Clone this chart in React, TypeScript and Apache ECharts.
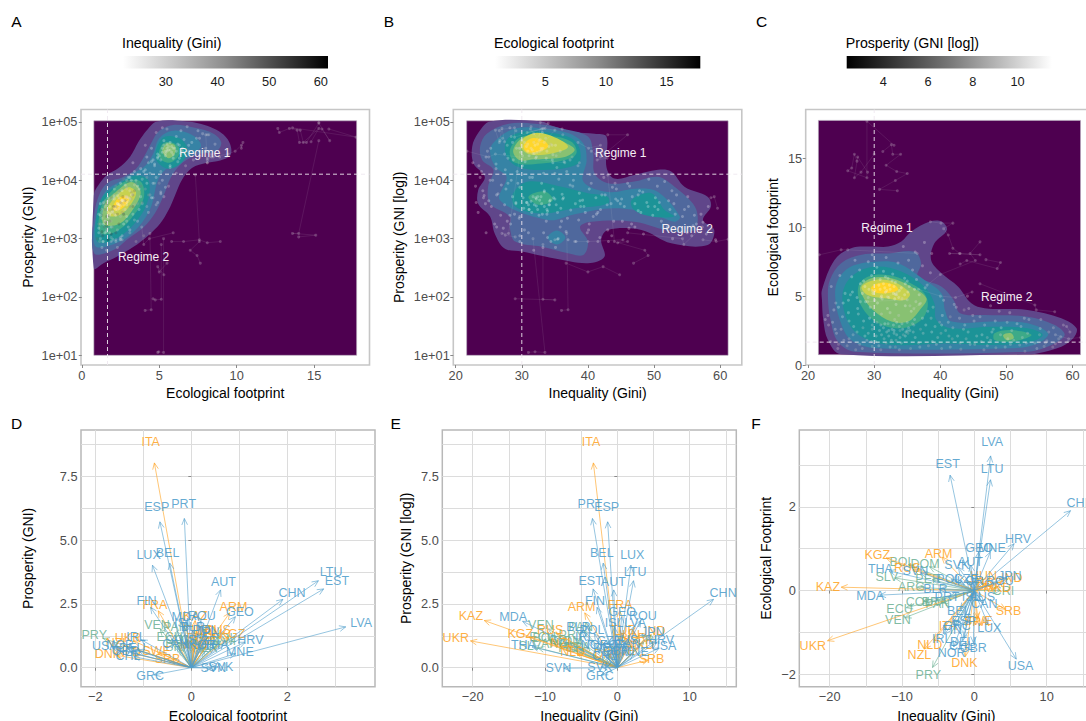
import React, { useEffect, useRef } from "react";
import * as echarts from "echarts";

type P = [number, number];
const FONT = "Liberation Sans";
const levelColors = ["#4e0050", "#60468a", "#4f689d", "#3683a5", "#1c9397", "#3daa88", "#88c172", "#c8d24f", "#ffd62a"];

// Observation extents of the density layer
const extentA = [0.78, 1.0, 17.74, 5.02];
const extentB = [21.66, 1.0, 61.2, 5.02];
const extentC = [21.56, 0.75, 61.2, 17.76];
const thresholdEco = 1.66;
const thresholdGini = 30;
const thresholdGni = 4.105;

// Density contours: [level, [[x,y],...]]
const contoursA: [number, P[]][] = [
  [1, [[0.78,2.49],[1.4,2.58],[2.26,2.69],[3.34,2.86],[4.31,3.06],[5.06,3.26],[5.6,3.49],[6.03,3.75],[6.47,4.01],[7.11,4.21],[8.08,4.3],[8.94,4.34],[9.59,4.43],[9.59,4.61],[9.16,4.78],[8.51,4.89],[7.65,4.97],[6.79,5.01],[4.85,5.01],[4.2,4.86],[3.66,4.66],[3.13,4.41],[2.37,4.21],[1.62,4.09],[1.08,3.92],[0.78,3.75]]],
  [2, [[0.8,2.75],[2,2.8],[3,3.0],[4,3.2],[4.75,3.45],[5.3,3.75],[5.75,4.05],[6.5,4.3],[7.6,4.45],[8.7,4.5],[9,4.65],[8.5,4.8],[7.3,4.9],[5.9,4.95],[5,4.85],[4.5,4.65],[4.05,4.42],[3.5,4.2],[2.6,4.05],[1.8,3.98],[1.2,3.8],[0.8,3.4]]],
  [3, [[0.85,2.88],[2,2.9],[3.3,3.1],[4.4,3.5],[5,4.05],[6,4.3],[7.2,4.45],[7.7,4.6],[7.1,4.78],[5.9,4.85],[5,4.72],[4.6,4.45],[4.1,4.25],[3.3,4.12],[2.4,3.97],[1.5,3.8],[0.95,3.4]]],
  [4, [[4.8,4.35],[5.6,4.2],[6.5,4.32],[6.8,4.55],[6.3,4.72],[5.4,4.75],[4.9,4.6]]],
  [4, [[1,2.95],[2,2.97],[3.2,3.2],[4.2,3.6],[4.3,4.0],[3.4,4.08],[2.2,3.9],[1.3,3.7],[0.9,3.3]]],
  [5, [[5,4.4],[5.6,4.3],[6.2,4.4],[6.3,4.55],[5.8,4.65],[5.2,4.62]]],
  [5, [[1.2,3.1],[2.2,3.12],[3.2,3.35],[4,3.7],[3.8,3.98],[2.8,3.98],[1.8,3.78],[1.2,3.5]]],
  [6, [[5.2,4.5],[5.6,4.38],[6,4.45],[6,4.6],[5.5,4.63]]],
  [6, [[1.4,3.25],[2.4,3.25],[3.3,3.5],[3.8,3.8],[3.2,3.97],[2.2,3.8],[1.5,3.6]]],
  [7, [[1.7,3.4],[2.4,3.4],[3.2,3.6],[3.5,3.8],[3,3.88],[2.2,3.72],[1.7,3.55]]],
  [8, [[2,3.5],[2.5,3.5],[3.05,3.66],[2.9,3.74],[2.3,3.68]]],
];
const contoursB: [number, P[]][] = [
  [1, [[25.2,5.01],[33,5.01],[34.7,4.93],[38,4.83],[41,4.8],[42.8,4.75],[42.8,4.23],[44,4.03],[47,4.09],[50.6,4.18],[52.6,4.15],[54.6,3.89],[58.1,3.72],[58.6,3.55],[57.4,3.32],[59.1,3.15],[58.1,2.89],[52.6,2.92],[48.1,3.15],[43,3.15],[42,2.98],[42.5,2.69],[40,2.58],[35,2.66],[30,2.78],[27.4,2.83],[25.9,3.09],[25.2,3.38],[23.4,3.6],[23.4,3.83],[24.4,4.06],[22.7,4.29],[22.5,4.58],[23.4,4.81]]],
  [2, [[24.7,4.8],[28,4.97],[32,4.97],[36,4.89],[40,4.75],[40.8,4.46],[41,4.12],[43,3.95],[47,3.98],[50.6,4.06],[53.1,3.89],[55.9,3.6],[56.6,3.38],[56.1,3.15],[52.9,3.12],[47,3.29],[40.5,3.29],[38.8,3.2],[40,2.95],[39.3,2.72],[37,2.75],[33,2.86],[29,2.95],[28.2,3.18],[28.2,3.38],[25.2,3.6],[24.9,3.89],[25.7,4.18],[24,4.35],[23.7,4.58]]],
  [3, [[26.4,4.72],[29,4.89],[33,4.89],[37,4.81],[39.3,4.63],[39.8,4.35],[39.3,3.98],[43,3.8],[47.6,3.86],[50.6,3.8],[53.9,3.38],[53.1,3.29],[49.6,3.43],[44,3.52],[38,3.42],[34,3.32],[26.7,3.66],[27.7,4.06],[26,4.23],[25.2,4.52]]],
  [3, [[33.9,3.02],[35.3,2.9],[36.6,3.02],[35.3,3.14]]],
  [4, [[27.7,4.69],[30,4.83],[34,4.82],[37.5,4.72],[38.8,4.52],[38.5,4.29],[34,4.18],[29.5,4.23],[27.7,4.41]]],
  [4, [[28.7,3.78],[31,3.98],[36,3.89],[40,3.78],[43,3.72],[43,3.6],[38,3.52],[33,3.43],[29,3.55]]],
  [4, [[46.6,3.66],[49.6,3.78],[51.6,3.49],[53,3.38],[49.6,3.38],[47,3.49]]],
  [5, [[28.2,4.52],[30,4.75],[34.5,4.76],[37.5,4.66],[38.3,4.49],[37.5,4.38],[33,4.29],[29,4.3]]],
  [5, [[31,3.72],[33.5,3.81],[34.7,3.66],[32.5,3.58]]],
  [6, [[28.7,4.52],[30.5,4.75],[34,4.75],[36.8,4.63],[38,4.52],[36.5,4.4],[32,4.36],[29.6,4.35]]],
  [7, [[29.7,4.63],[31.5,4.8],[34,4.78],[37,4.58],[34.5,4.46],[31,4.45]]],
  [8, [[30.3,4.6],[31.5,4.72],[33.2,4.69],[34,4.58],[32.5,4.49],[30.7,4.49]]],
];
const contoursC: [number, P[]][] = [
  [1, [[22.1,5.45],[24,7.63],[26.5,8.48],[29.6,8.6],[32.1,8.6],[34.1,8.96],[35.6,9.69],[38.4,10.42],[40.2,10.42],[41,9.81],[39.1,8.84],[38.6,7.63],[40.2,6.66],[42.7,5.69],[44.7,4.48],[46.7,4.12],[53.2,4],[58.3,3.39],[60.6,2.66],[60.1,1.94],[58.3,1.33],[54.8,0.85],[53.8,0.78],[25,0.78],[23,1.82],[22.3,3.27],[22.1,4.72]]],
  [2, [[23.3,6.18],[25,7.39],[28.1,8],[32.1,8.1],[36.1,8.23],[37.1,7.39],[36.6,6.42],[40.2,5.69],[42,4.72],[43,3.76],[46.7,3.63],[53.2,3.51],[57.3,2.9],[58.8,2.18],[56.8,1.45],[53.2,0.97],[27,0.97],[24.5,1.7],[23.4,3.27],[23,4.96]]],
  [3, [[24.5,6.18],[26.5,7.15],[30.1,7.5],[33.6,7.39],[37.6,6.18],[40.2,5.2],[40.7,4],[41.7,3.15],[48.2,3.15],[53.2,3.03],[56.3,2.3],[54.8,1.57],[50.7,1.21],[30.6,1.21],[26.5,1.82],[24.8,3.27],[24.1,4.96]]],
  [4, [[25.5,5.69],[27.6,6.78],[30.6,7.15],[34.1,6.78],[37.6,5.69],[39.1,4.48],[39.4,3.27],[41.7,2.66],[47.7,2.78],[53.2,2.66],[55.5,2.18],[53.2,1.62],[47.7,1.45],[40.7,1.57],[33.1,1.45],[29.1,1.82],[26.6,2.66],[25.3,4.24]]],
  [5, [[27.6,5.69],[29.1,6.42],[32.1,6.54],[35.1,6.05],[37.6,5.2],[38.1,4.24],[37.1,3.27],[34.1,2.66],[30.6,3.03],[28.1,4.24]]],
  [5, [[48.2,2.3],[50.7,2.54],[53.8,2.18],[51.1,1.7],[48.2,1.82]]],
  [6, [[27.9,5.69],[29.6,6.3],[32.6,6.3],[35.6,5.69],[37.9,4.84],[36.9,4],[35.1,3.15],[32.6,3.15],[29.8,4],[28.3,4.96]]],
  [6, [[49.5,2.18],[50.7,2.3],[51.1,1.94],[50,1.82]]],
  [7, [[28.1,5.69],[30.1,6.18],[32.9,6.05],[35.4,5.2],[34.6,4.72],[31.6,4.84],[29,5.08]]],
  [8, [[29.6,5.69],[31.1,5.98],[33.1,5.81],[33.6,5.45],[31.6,5.2],[29.8,5.33]]],
];

// Country-year observations: [footprint, gini, log10 GNI]
type T = [number, number, number];
const observations: T[] = [
  [1.9,31.5,3.45],[2.2,33.4,3.55],[2.5,30.8,3.62],[2.7,35.2,3.58],[3,32.1,3.7],[2.3,37.4,3.49],[1.7,29.6,3.35],[2.8,39.2,3.66],[3.3,36.1,3.76],[2.1,41.3,3.42],
  [2.6,43.5,3.6],[1.5,45.2,3.3],[1.8,47.6,3.48],[2.2,49.1,3.55],[2.5,50.8,3.62],[2,52.4,3.5],[1.6,54.3,3.38],[2.9,46.7,3.72],[3.2,48.3,3.8],[2.4,44.2,3.68],
  [1.2,35.5,3.0],[1.4,38.2,2.95],[1.1,31,3.1],[1.3,33.2,2.85],[1.6,36.7,3.12],[1.9,41.8,3.02],[1.15,43.1,2.95],[1.7,46.2,3.18],[1.25,48.4,3.08],[1.45,52,3.2],
  [1.35,55.7,3.05],[1.55,57.4,3.28],[1.75,56.1,3.4],[2.05,58.2,3.55],[2.65,55.1,3.72],[3.4,52.7,3.82],[3.8,50.5,3.9],[3.5,46,3.95],[4.1,44.3,3.85],[4.4,42.1,3.75],
  [4.7,40.5,3.95],[3.9,38.1,3.6],[4.3,35.4,3.45],[3.6,33.7,3.3],[3.1,30.4,3.15],[2.7,28.3,3.25],[2.2,26.8,3.4],[1.8,25.4,3.55],[2.6,25,3.65],[3.2,26.2,3.75],
  [3.7,27.6,3.85],[4.2,29.4,3.95],[4.8,31.2,4.05],[4.4,33.3,4.12],[3.9,35.6,4.02],[3.4,37.3,3.92],[2.9,40.2,3.85],[2.4,38.7,3.78],[2,36.2,3.68],[1.6,34.1,3.58],
  [5.6,31.6,4.52],[5.2,29.8,4.48],[6,33.2,4.55],[5.5,32.4,4.62],[5.8,30.7,4.58],[6.3,34.6,4.6],[5,31.1,4.42],[5.4,33.8,4.5],[6.6,32.8,4.7],[4.6,28.7,4.35],
  [4.9,27.4,4.45],[7.1,30.4,4.65],[7.4,33.6,4.72],[6.9,35.8,4.5],[7.8,31.8,4.8],[6.1,28.4,4.75],[5.3,26.7,4.68],[4.5,25.3,4.55],[4.2,24.6,4.4],[3.8,26.1,4.2],
  [8.2,36.2,4.78],[8.6,34.4,4.62],[8.9,37.6,4.4],[8.1,38.7,4.3],[7.6,35.2,4.42],[7.2,37.3,4.35],[6.7,38.5,4.25],[6.2,36.4,4.32],[5.7,35.3,4.22],[5.1,36.8,4.15],
  [4.3,34.7,4.3],[4.7,30.1,4.25],[5.9,27.9,4.38],[6.4,26.6,4.85],[5.2,28.2,4.9],[4.8,33.1,4.82],[5.5,36.1,4.88],[6.8,31.4,4.92],[7.5,29.1,4.85],[4.1,32,4.6],
  [3.4,29.3,4.15],[3,31.6,4.05],[2.5,33,3.95],[2.1,34.7,3.85],[1.7,30.2,3.7],[1.3,32.4,3.5],[2.9,37.8,4.0],[3.6,40.3,4.1],[4.2,42.4,4.05],[5,44.1,3.95],
  [2.2,46.3,3.9],[2.7,49.2,4.02],[3,51.6,3.98],[3.3,53.4,3.75],[2.4,47.8,3.82],[1.9,50.2,3.7],[1.6,53,3.6],[1.3,49.8,3.4],[1.1,46.6,3.25],[1,52.8,3.0],
  [2.2,55,3.1],[1.7,59.3,2.98],[1.5,44.5,3.65],[2.1,42.6,3.75],[2.9,43.7,3.88],[3.1,41.2,3.7],[3.6,44.9,3.6],[4.2,38.9,3.55],[4.6,36.3,3.7],[5.1,33.4,3.8],
  [2.4,31.9,3.58],[2.6,32.7,3.66],[2.1,30.3,3.52],[3,34.2,3.64],[1.8,28.9,3.42],[2.3,29.1,3.6],[2.8,33.8,3.5],[1.5,27.8,3.3],[2,39.6,3.45],[2.5,40.8,3.38],
  [1.35,29.7,2.95],[1.1,27.2,3.18],[1.6,31.8,2.8],[2.2,34.4,2.95],[2.6,37,2.98],[3.1,39.9,3.1],[2.5,33.9,3.02],[2.3,35.1,2.85],[3.5,41.5,2.95],[4,43.6,3.05],
  [1.2,24.5,3.6],[1.4,25.9,3.25],[2.6,24.1,3.82],[3.1,23.7,4.05],[3.6,23,3.9],[4.5,24.2,3.7],[5.2,25.6,4.0],[5.7,23.5,4.25],[6.5,24.8,4.5],[3.3,22.6,4.3],
  [4.9,29.1,3.62],[5.3,31.7,3.72],[4.8,34.2,3.58],[5.6,37.7,3.9],[5.1,26.4,3.77],[3.7,31.1,3.5],[3.3,33.1,3.42],[2.9,29.7,3.38],[2.4,27.4,3.58],[2.1,28.6,3.72],
  [4.5,30.5,4.32],[4.9,33.7,4.38],[5.4,30.1,4.42],[5.8,32.3,4.48],[5.5,29.2,4.55],[6.2,30.9,4.62],[6.5,29.6,4.55],[5.9,34.7,4.44],[6.3,32.1,4.38],[5.3,35.1,4.6],
  [5.7,28.6,4.65],[6.9,27.8,4.6],[7.6,27.1,4.72],[8,29.7,4.55],[4.7,26.1,4.28],[4.1,27.5,4.18],[3.5,25.2,4.0],[3.2,28.4,4.0],[2.8,26.9,3.92],[2.3,24.3,3.74],
  [1.5,39.4,3.55],[1.3,41.5,3.45],[1.9,43.9,3.3],[1.4,47.1,3.6],[1.8,51.1,3.3],[1.2,54.6,3.5],[1.6,55.9,3.22],[2.3,53.2,3.42],[2.8,52.2,3.65],[3.1,50.1,3.55],
  [1.3,57,3.12],[1.9,57.9,3.08],[2.4,56.4,3.25],[1.5,50.6,3.5],[2.6,48,3.45],[2.1,45.5,3.55],[3.2,45.1,3.68],[3.4,42.9,3.58],[2.7,41.9,3.5],[1.7,38.8,3.65],
  [1.4,30.7,3.62],[1.2,28.2,3.4],[1.9,26.2,3.2],[2.6,29.7,3.05],[3,35.8,3.2],[3.4,38.6,3.32],[2.1,32.2,3.68],[2.9,31,3.58],[2.4,34.8,3.7],[3.1,33.4,3.82],
  [4.3,47.6,3.75],[3.9,48.9,3.62],[3.3,55.2,3.55],[2.7,57.1,3.42],[2,47.1,3.2],[1.6,43,3.15],[1.2,40.2,3.25],[2.3,40.1,3.15],[2.9,36,3.3],[3.8,32.4,3.72],
  [1.8,33.3,3.1],[1.3,36.9,3.35],[1.1,33.8,3.42],[1.5,24.6,3.1],[1.7,23.4,3.45],[2.9,23.1,3.62],[4,23.9,4.15],[4.6,27.9,3.95],[5.4,29.7,3.88],[6.1,35,4.12],
  [2.2,31.1,3.5],[2.5,32.2,3.56],[2.7,31.4,3.64],[2.3,33,3.6],[2.9,32.9,3.72],[3.1,35,3.68],[2,33.9,3.47],[1.8,32.6,3.4],[2.6,34.3,3.66],[2.4,35.9,3.52],
  [5.5,30.9,4.5],[5.7,33,4.52],[5.4,31.9,4.46],[5.9,31.4,4.55],[6.1,32.7,4.5],[5.2,32.9,4.55],[5.6,34.1,4.58],[6.4,31.7,4.46],[4.9,32.2,4.4],[5.1,34.6,4.35],
];

// Trails of single countries through time
const trails: T[][] = [
  [[12.65,33.5,4.89],[12.75,30.8,4.82],[13.4,33.2,4.89],[13.9,35,4.86],[14.05,33.4,4.65],[14.5,31.8,4.65],[15.3,34,4.98],[15.3,32.8,4.99],[16,32.6,4.68],[15.5,31.3,4.88]],
  [[14.8,27.4,4.66],[15.3,27,4.89],[14.3,26.6,4.65],[14.1,26,4.86],[13.6,28.9,4.9],[17.7,28.9,4.74],[15.95,33,4.88]],
  [[15.3,30,4.68],[14,28,3.09],[13.6,27,3.09],[15.1,27.5,3.06],[14,29,3.03]],
  [[5.8,38,2.95],[6.57,40,2.95],[7.59,45.3,2.98],[8.1,44.5,2.93],[8.94,46,2.95]],
  [[7.33,43,4.09],[7.59,44,2.95],[7,48.6,2.8],[7.44,49.1,2.71],[7.65,46.9,2.58]],
  [[5.3,44.8,2.38],[4.9,42.3,2.52],[5,40,2.43],[5.5,36.7,2.58]],
  [[5.28,31.7,3],[5.28,33.5,1.05],[4.96,32,1.06],[4.9,31,1.05]],
  [[5.13,33.2,2.9],[5.13,33.2,1.96],[4.74,35,1.95],[4.6,29,1.97]],
  [[4.4,36.8,3.09],[4.48,37,1.78],[4.09,36,1.77]],
  [[10.4,38.5,4.65],[10.3,40.1,4.55],[10.3,41.9,4.6],[9.9,40.5,4.5],[9.44,41.2,4.45],[8.48,41.9,4.4],[8.1,42.9,4.38],[8.1,41.4,4.35],[8,46,4.78],[8.1,43,4.78]],
  [[8,21.7,4.5],[8.36,25,4.4],[8.36,26,4.45],[8.1,36.5,4.3]],
  [[2.9,58.6,3.7],[2.8,59.1,3.72],[2.4,59.6,3.52]],
  [[2,61.2,2.99],[1.9,59.4,2.95],[2.2,57.4,2.98]],
  [[3.87,57.3,3.2],[4,54.5,2.9],[4.36,54.3,3],[5.9,46,3.1]],
  [[2.48,35,2.98],[2.5,35.4,2.99]],
];

// Change per country: [code, Δfootprint, Δgini, Δgni]
type C = [string, number, number, number];
const blueCountries: C[] = [
  ["PRT",-0.145,-3.44,5.85],["ESP",-0.655,-1.34,5.72],["LUX",-0.81,1.88,4.02],["BEL",-0.45,-1.95,4.1],["AUT",0.61,-0.5,3.05],
  ["CHN",1.91,13.3,2.68],["LTU",2.65,2.24,3.41],["EST",2.76,-3.35,3.09],["LVA",3.22,2.25,1.6],["FIN",-0.85,-2.8,2.37],
  ["GEO",0.92,0.6,2.0],["ROU",0.2,3.2,1.85],["MDA",-0.11,-13.1,1.82],["BLR",0.03,-4.9,1.44],["USA",-1.64,5.8,0.77],
  ["CHL",-1.2,-1.6,0.43],["NOR",-1.35,-2.85,0.8],["IRL",-1.05,-4.1,1.1],["DEU",-1.12,-1.4,0.7],["GBR",-1.25,-0.13,0.6],
  ["GRC",-0.78,-2.2,-0.28],["SVN",0.42,-7.4,-0.02],["SVK",0.56,-2.2,0.03],["HRV",1.12,5.5,1.0],["MNE",0.92,2.2,0.55],
  ["THA",0.47,-11.8,0.82],["CAN",-0.3,1.25,0.86],["JPN",0.31,4.45,1.28],["POL",0.26,-3.2,1.34],["CZE",0.25,-1,0.95],
  ["AUS",-0.15,1,1.0],["KOR",0.2,-0.5,0.8],["ISL",-0.15,-0.4,1.6],
];
const orangeCountries: C[] = [
  ["ITA",-0.77,-3.31,8.03],["FRA",-0.69,0.34,2.23],["ARM",0.8,-4.5,2.15],["KAZ",0.08,-18.4,1.85],["RUS",0.5,-8.45,1.35],
  ["KGZ",0.78,-12.2,1.19],["UKR",-1.2,-20.3,1.05],["NZL",-1.4,-6.9,0.88],["NLD",-1.19,-5.6,0.55],["DNK",-1.58,-1.25,0.49],
  ["SWE",-0.66,0.5,0.6],["SRB",-0.45,4.3,0.3],["IND",0.28,4.7,1.3],["HUN",0.32,1.15,1.16],["BGR",0.17,2,1.05],
  ["TUR",0.1,0.8,1.35],["MKD",0.05,2.9,0.8],
];
const greenCountries: C[] = [
  ["PRY",-1.84,-5.78,1.15],["VEN",-0.65,-9.6,1.52],["CRI",0,3.65,0.98],["ARG",0.08,-7.9,0.86],["BOL",0.62,-9.1,1.05],
  ["ECU",-0.41,-9.4,1.1],["COL",-0.25,-7,1],["DOM",0.57,-6.2,0.95],["PER",0.26,-5.8,0.7],["BRA",-0.25,-5,0.75],
  ["PAN",-0.3,-4.6,1.45],["SLV",0.3,-11,0.78],
];
const labelStretch = 1.1;

const ticksTopA = [0, 5, 10, 15];
const ticksGini = [20, 30, 40, 50, 60];
const ticksGni = [1, 2, 3, 4, 5];
const ticksEco = [0, 5, 10, 15];
const legendTicksGini = [30, 40, 50, 60];
const legendTicksEco = [5, 10, 15];
const legendTicksLnGni = [4, 6, 8, 10];
const regimesA: [string, number, number][] = [["Regime 1", 7.93, 4.47], ["Regime 2", 3.99, 2.69]];
const regimesB: [string, number, number][] = [["Regime 1", 44.96, 4.47], ["Regime 2", 55, 3.17]];
const regimesC: [string, number, number][] = [["Regime 1", 31.94, 9.93], ["Regime 2", 50.03, 4.92]];

const opt: any = { animation: false, backgroundColor: "#fff", grid: [], xAxis: [], yAxis: [], series: [], graphic: [] };

const tickLabel = (v: number) => (v < 0 ? "\u2212" + Math.abs(v) : String(v));
const logLabel = (v: number) => "1e+0" + v;

function valueAxis(o: any) {
  return {
    type: "value", scale: true, min: o.min, max: o.max, gridIndex: o.grid, position: o.position,
    name: o.name, nameLocation: "middle", nameGap: o.gap,
    nameTextStyle: { color: "#000", fontSize: 14, fontFamily: FONT },
    axisLine: { show: false },
    axisTick: { show: o.showTick !== false, length: 3, customValues: o.tickValues, lineStyle: { color: "#888", width: 1 }, inside: false },
    axisLabel: { show: !!o.labels, customValues: o.tickValues, margin: 3.5, color: "#4d4d4d", fontSize: 12.8, fontFamily: FONT, formatter: o.fmt || tickLabel },
    splitLine: { show: !!o.split, lineStyle: { color: "#dcdcdc", width: 1 } },
  };
}

function addPanelGrid(left: number, top: number, width: number, height: number, border: string, bw: number) {
  opt.grid.push({ left, top, width, height, outerBoundsMode: "none", show: true, backgroundColor: "#fff", borderColor: border, borderWidth: bw });
  return opt.grid.length - 1;
}

function addDensityPanel(p: any) {
  const g = addPanelGrid(p.left, 109.5, 288.5, 255.5, "#c6c6c6", 1.6);
  const xi = opt.xAxis.push(valueAxis({ grid: g, min: p.xr[0], max: p.xr[1], position: "bottom", name: p.xName, gap: 21, tickValues: p.xTicks, labels: true })) - 1;
  const yi = opt.yAxis.push(valueAxis({ grid: g, min: p.yr[0], max: p.yr[1], position: "left", name: p.yName, gap: p.yGap, tickValues: p.yTicks, labels: true, fmt: p.yFmt })) - 1;
  const ax = { xAxisIndex: xi, yAxisIndex: yi, silent: true };
  const e = p.extent;
  opt.series.push({
    ...ax, type: "custom", z: 1, data: [[e[0], e[1]]], encode: { x: 0, y: 1 },
    renderItem: (_: any, api: any) => {
      const a = api.coord([e[0], e[3]]); const b = api.coord([e[2], e[1]]);
      return { type: "rect", shape: { x: a[0], y: a[1], width: b[0] - a[0], height: b[1] - a[1] }, style: { fill: levelColors[0], stroke: "#b9aebd", lineWidth: 0.6 } };
    },
  });
  const rings = p.contours as [number, P[]][];
  opt.series.push({
    ...ax, type: "custom", z: 2, data: rings.map((r) => r[1][0]), encode: { x: 0, y: 1 },
    renderItem: (params: any, api: any) => {
      const r = rings[params.dataIndex];
      return { type: "polygon", shape: { points: r[1].map((q) => api.coord(q)), smooth: 0.35 }, style: { fill: levelColors[r[0]] } };
    },
  });
  const shade = (v: T) => {
    const t = Math.min(1, Math.max(0, p.shade(v)));
    const c = Math.round(255 * (1 - t * t));
    return `rgba(${c},${c},${c},0.34)`;
  };
  trails.forEach((tr) => {
    opt.series.push({
      ...ax, type: "line", z: 3, data: tr.map((v) => p.pick(v)), symbol: "circle", symbolSize: 3, showSymbol: true,
      lineStyle: { color: "rgba(225,225,225,0.14)", width: 0.7 }, itemStyle: { color: "rgba(225,225,225,0.24)", borderWidth: 0 },
    });
  });
  opt.series.push({
    ...ax, type: "scatter", z: 4, symbolSize: 3, data: observations.map((v) => p.pick(v)),
    itemStyle: { color: (d: any) => shade(observations[d.dataIndex]) },
  });
  // threshold lines
  opt.series.push({ ...ax, type: "line", z: 5, showSymbol: false, symbol: "none", data: [[p.vLine, p.yr[0]], [p.vLine, p.yr[1]]], lineStyle: { color: "rgba(238,232,240,0.9)", width: 1, type: [4, 3] } });
  opt.series.push({ ...ax, type: "line", z: 5, showSymbol: false, symbol: "none", data: [[p.xr[0], p.hLine], [p.xr[1], p.hLine]], lineStyle: { color: "rgba(238,232,240,0.9)", width: 1, type: [4, 3] } });
  opt.series.push({
    ...ax, type: "custom", z: 6, data: p.regimes.map((r: any) => [r[1], r[2]]), encode: { x: 0, y: 1 },
    renderItem: (params: any, api: any) => {
      const r = p.regimes[params.dataIndex];
      const c = api.coord([r[1], r[2]]);
      return { type: "text", x: c[0], y: c[1], style: { text: r[0], fill: "#f4eef4", fontSize: 12, fontFamily: FONT, align: "center", verticalAlign: "middle" } };
    },
  });
}

function addLegend(l: any) {
  opt.grid.push({ left: l.left, top: 56, width: l.width, height: 12.5, outerBoundsMode: "none" });
  const g = opt.grid.length - 1;
  const mk = (position: string, labels: boolean) => ({
    type: "value", gridIndex: g, min: l.range[0], max: l.range[1], scale: true, position,
    axisLine: { show: false }, splitLine: { show: false },
    axisTick: { show: true, inside: true, length: 2.5, customValues: l.ticks, lineStyle: { color: "#fff", width: 1 } },
    axisLabel: { show: labels, customValues: l.ticks, margin: 6, color: "#1a1a1a", fontSize: 12.8, fontFamily: FONT },
  });
  const xi = opt.xAxis.push(mk("bottom", true)) - 1;
  const xi2 = opt.xAxis.push(mk("top", false)) - 1;
  const yi = opt.yAxis.push({ type: "value", gridIndex: g, min: 0, max: 1, show: false }) - 1;
  opt.series.push({
    type: "custom", xAxisIndex: xi, yAxisIndex: yi, silent: true, z: 1, data: [[l.range[0], 0]], encode: { x: 0, y: 1 },
    renderItem: (_: any, api: any) => {
      const a = api.coord([l.range[0], 1]); const b = api.coord([l.range[1], 0]);
      return {
        type: "rect", shape: { x: a[0], y: a[1], width: b[0] - a[0], height: b[1] - a[1] },
        style: { fill: new echarts.graphic.LinearGradient(0, 0, 1, 0, l.reverse
          ? [{ offset: 0, color: "#000" }, { offset: 0.5, color: "#777" }, { offset: 1, color: "#fff" }]
          : [{ offset: 0, color: "#fff" }, { offset: 0.5, color: "#8c8c8c" }, { offset: 1, color: "#000" }]) },
      };
    },
  });
  opt.series.push({ type: "line", xAxisIndex: xi2, yAxisIndex: yi, silent: true, data: [], showSymbol: false });
  opt.graphic.push({ type: "text", x: l.left - 1, y: 43, style: { text: l.title, fill: "#000", fontSize: 14.2, fontFamily: FONT, verticalAlign: "middle" } });
}

function addArrowPanel(p: any) {
  const g = addPanelGrid(p.left, 430, 294, 256.7, "#b8b8b8", 1.5);
  const xGrid = opt.xAxis.push(valueAxis({ grid: g, min: p.xr[0], max: p.xr[1], position: "bottom", tickValues: p.xGrid, showTick: false, split: true })) - 1;
  opt.xAxis.push(valueAxis({ grid: g, min: p.xr[0], max: p.xr[1], position: "bottom", name: p.xName, gap: 22, tickValues: p.xTicks, labels: true }));
  const yGrid = opt.yAxis.push(valueAxis({ grid: g, min: p.yr[0], max: p.yr[1], position: "left", tickValues: p.yGrid, showTick: false, split: true })) - 1;
  opt.yAxis.push(valueAxis({ grid: g, min: p.yr[0], max: p.yr[1], position: "left", name: p.yName, gap: p.yGap, tickValues: p.yTicks, labels: true, fmt: p.yFmt }));
  const groups: [C[], string, string][] = [
    [greenCountries, "rgba(110,178,150,0.85)", "rgba(112,178,150,0.88)"],
    [orangeCountries, "rgba(255,165,40,0.85)", "rgba(255,165,40,0.88)"],
    [blueCountries, "rgba(80,158,204,0.8)", "rgba(80,158,204,0.88)"],
  ];
  groups.forEach(([rows, line, text]) => {
    opt.series.push({
      type: "custom", xAxisIndex: xGrid, yAxisIndex: yGrid, silent: true, z: 3, data: rows.map((r) => p.pick(r)), encode: { x: 0, y: 1 },
      renderItem: (params: any, api: any) => {
        const r = rows[params.dataIndex];
        const v = p.pick(r);
        const o = api.coord([0, 0]);
        const t = api.coord(v);
        const lab = api.coord([v[0] * labelStretch, v[1] * labelStretch]);
        const ang = Math.atan2(t[1] - o[1], t[0] - o[0]);
        const hl = 7; const ha = 0.42;
        const h1 = [t[0] - hl * Math.cos(ang - ha), t[1] - hl * Math.sin(ang - ha)];
        const h2 = [t[0] - hl * Math.cos(ang + ha), t[1] - hl * Math.sin(ang + ha)];
        const st = { stroke: line, lineWidth: 0.75, fill: "none" };
        return {
          type: "group",
          children: [
            { type: "line", shape: { x1: o[0], y1: o[1], x2: t[0], y2: t[1] }, style: st },
            { type: "polyline", shape: { points: [h1, t, h2] }, style: st },
            { type: "text", x: lab[0], y: lab[1], style: { text: r[0], fill: text, fontSize: 12.5, fontFamily: FONT, align: "center", verticalAlign: "middle" } },
          ],
        };
      },
    });
  });
}

const lnShade = (v: T) => 1 - (v[2] * 2.3026 - 2.37) / (11.54 - 2.37);

addDensityPanel({
  left: 81, xr: [-0.05, 18.57], yr: [0.834, 5.214], xName: "Ecological footprint", yName: "Prosperity (GNI)", yGap: 46,
  xTicks: ticksTopA, yTicks: ticksGni, yFmt: logLabel, extent: extentA, contours: contoursA, pick: (v: T) => [v[0], v[2]],
  shade: (v: T) => (v[1] - 21.7) / 39.7, vLine: thresholdEco, hLine: thresholdGni, regimes: regimesA,
});
addDensityPanel({
  left: 453.3, xr: [19.64, 63.27], yr: [0.834, 5.214], xName: "Inequality (Gini)", yName: "Prosperity (GNI [log])", yGap: 47,
  xTicks: ticksGini, yTicks: ticksGni, yFmt: logLabel, extent: extentB, contours: contoursB, pick: (v: T) => [v[1], v[2]],
  shade: (v: T) => (v[0] - 0.85) / 16.9, vLine: thresholdGini, hLine: thresholdGni, regimes: regimesB,
});
addDensityPanel({
  left: 805.7, xr: [19.64, 63.27], yr: [0, 18.55], xName: "Inequality (Gini)", yName: "Ecological footprint", yGap: 26,
  xTicks: ticksGini, yTicks: ticksEco, extent: extentC, contours: contoursC, pick: (v: T) => [v[1], v[0]],
  shade: lnShade, vLine: thresholdGini, hLine: thresholdEco, regimes: regimesC,
});

addLegend({ left: 123, width: 205, range: [21.7, 61.4], ticks: legendTicksGini, title: "Inequality (Gini)" });
addLegend({ left: 495, width: 205.3, range: [0.85, 17.78], ticks: legendTicksEco, title: "Ecological footprint" });
addLegend({ left: 846.7, width: 205.3, range: [2.37, 11.54], ticks: legendTicksLnGni, title: "Prosperity (GNI [log])", reverse: true });

const fmt1 = (v: number) => v.toFixed(1);
addArrowPanel({
  left: 81, xr: [-2.3, 3.83], yr: [-0.745, 9.32], xName: "Ecological footprint", yName: "Prosperity (GNI)", yGap: 46,
  xGrid: [-2, -1, 0, 1, 2, 3], xTicks: [-2, 0, 2], yGrid: [0, 1.25, 2.5, 3.75, 5, 6.25, 7.5, 8.75], yTicks: [0, 2.5, 5, 7.5], yFmt: fmt1,
  pick: (r: C) => [r[1], r[3]],
});
addArrowPanel({
  left: 442.3, xr: [-24.2, 16.45], yr: [-0.745, 9.32], xName: "Inequality (Gini)", yName: "Prosperity (GNI [log])", yGap: 29,
  xGrid: [-20, -15, -10, -5, 0, 5, 10, 15], xTicks: [-20, -10, 0, 10], yGrid: [0, 1.25, 2.5, 3.75, 5, 6.25, 7.5, 8.75], yTicks: [0, 2.5, 5, 7.5], yFmt: fmt1,
  pick: (r: C) => [r[2], r[3]],
});
addArrowPanel({
  left: 799.3, xr: [-24.2, 16.45], yr: [-2.3, 3.84], xName: "Inequality (Gini)", yName: "Ecological Footprint", yGap: 26,
  xGrid: [-20, -15, -10, -5, 0, 5, 10, 15], xTicks: [-20, -10, 0, 10], yGrid: [-2, -1, 0, 1, 2, 3], yTicks: [-2, 0, 2],
  pick: (r: C) => [r[2], r[1]],
});

const panelLetters: [string, number, number][] = [["A", 16.5, 21], ["B", 389, 21], ["C", 761.7, 21], ["D", 16.5, 423], ["E", 395.7, 423], ["F", 756, 423]];
panelLetters.forEach(([t, x, y]) => {
  opt.graphic.push({ type: "text", x, y, style: { text: t, fill: "#000", fontSize: 15.5, fontFamily: FONT, align: "center", verticalAlign: "middle" } });
});

export default function App() {
  const ref = useRef<HTMLDivElement>(null);
  useEffect(() => {
    document.body.style.margin = "0";
    const chart = echarts.init(ref.current!, undefined, { renderer: "svg" });
    chart.setOption(opt);
    return () => chart.dispose();
  }, []);
  return <div ref={ref} style={{ width: 1086, height: 721 }} />;
}
